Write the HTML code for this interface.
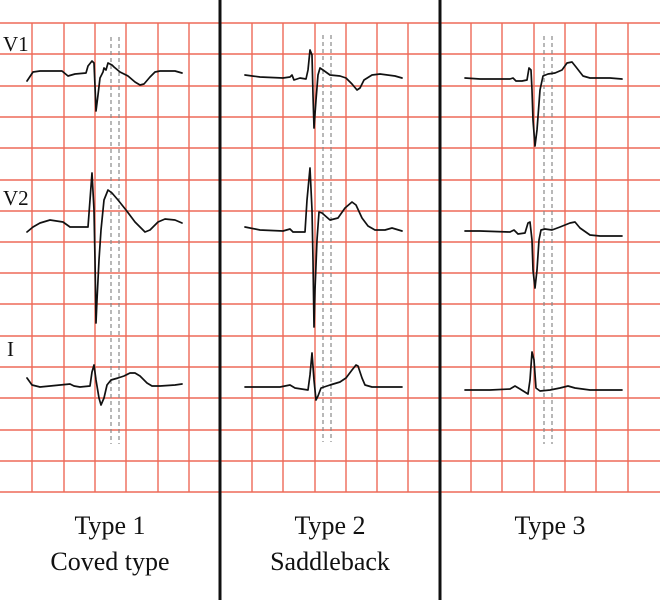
<!DOCTYPE html>
<html><head><meta charset="utf-8"><style>
html,body{margin:0;padding:0;background:#fff;width:660px;height:600px;overflow:hidden}
svg{display:block}
text{font-family:"Liberation Serif",serif;fill:#111}
</style></head><body>
<svg width="660" height="600" viewBox="0 0 660 600" xmlns="http://www.w3.org/2000/svg">
<g stroke="#ee6a58" stroke-width="1.4">
<line x1="0" y1="23" x2="660" y2="23"/><line x1="0" y1="54" x2="660" y2="54"/><line x1="0" y1="86" x2="660" y2="86"/><line x1="0" y1="117" x2="660" y2="117"/><line x1="0" y1="148" x2="660" y2="148"/><line x1="0" y1="180" x2="660" y2="180"/><line x1="0" y1="211" x2="660" y2="211"/><line x1="0" y1="242" x2="660" y2="242"/><line x1="0" y1="273" x2="660" y2="273"/><line x1="0" y1="304" x2="660" y2="304"/><line x1="0" y1="336" x2="660" y2="336"/><line x1="0" y1="367" x2="660" y2="367"/><line x1="0" y1="398" x2="660" y2="398"/><line x1="0" y1="430" x2="660" y2="430"/><line x1="0" y1="461" x2="660" y2="461"/><line x1="0" y1="492" x2="660" y2="492"/>
<line x1="32" y1="23" x2="32" y2="492"/><line x1="64" y1="23" x2="64" y2="492"/><line x1="95" y1="23" x2="95" y2="492"/><line x1="126" y1="23" x2="126" y2="492"/><line x1="158" y1="23" x2="158" y2="492"/><line x1="189" y1="23" x2="189" y2="492"/>
<line x1="252" y1="23" x2="252" y2="492"/><line x1="283" y1="23" x2="283" y2="492"/><line x1="315" y1="23" x2="315" y2="492"/><line x1="346" y1="23" x2="346" y2="492"/><line x1="377" y1="23" x2="377" y2="492"/><line x1="408" y1="23" x2="408" y2="492"/>
<line x1="471" y1="23" x2="471" y2="492"/><line x1="502" y1="23" x2="502" y2="492"/><line x1="534" y1="23" x2="534" y2="492"/><line x1="565" y1="23" x2="565" y2="492"/><line x1="596" y1="23" x2="596" y2="492"/><line x1="628" y1="23" x2="628" y2="492"/>
</g>
<g stroke="#888" stroke-width="1.2" stroke-dasharray="4,3">
<line x1="111" y1="37" x2="111" y2="444"/><line x1="119" y1="37" x2="119" y2="444"/>
<line x1="323" y1="35" x2="323" y2="442"/><line x1="331" y1="35" x2="331" y2="442"/>
<line x1="544" y1="36" x2="544" y2="444"/><line x1="552" y1="36" x2="552" y2="444"/>
</g>
<g stroke="#111" stroke-width="3">
<line x1="220" y1="0" x2="220" y2="600"/><line x1="440" y1="0" x2="440" y2="600"/>
</g>
<g fill="none" stroke="#111" stroke-width="1.7" stroke-linejoin="round" stroke-linecap="round">
<polyline points="27,81 33,72 40,71 62,71 68,76 75,74 86,73 88,66 92,61 94,63 95,86 96,111 98,95 100,78 103,72 104,68 106,70 108,63 110,64 112,65 114,67 120,72 128,76 135,82 140,85 144,84 150,77 155,72 160,71 175,71 182,73"/>
<polyline points="27,232 33,227 40,223 50,220 63,222 70,227 88,227 90,200 92,173 94,210 95,260 96,323 97,300 99,260 101,230 104,200 108,190 112,193 118,200 126,210 135,222 145,232 150,230 158,222 165,219 175,220 182,223"/>
<polyline points="27,378 32,385 40,387 60,385 70,384 74,386 80,387 90,386 92,372 94,365 96,380 99,398 101,405 104,398 107,385 111,380 118,378 124,376 130,373 135,373 140,376 147,383 152,386 160,386 175,385 182,384"/>
<polyline points="245,75 260,77 283,78 290,77 292,75 294,80 300,78 306,79 308,70 310,50 312,55 313,95 314,128 316,100 318,75 320,68 323,70 330,75 340,76 346,78 352,84 357,90 360,88 364,80 372,75 380,74 395,76 402,78"/>
<polyline points="245,227 260,230 283,231 290,229 293,232 305,232 307,200 310,168 312,210 313,260 314,327 315,290 317,240 319,212 322,213 330,220 338,218 345,208 352,202 356,205 362,218 368,226 375,230 385,230 392,228 402,231"/>
<polyline points="245,387 280,387 290,385 295,388 308,390 310,375 312,353 314,380 316,400 318,396 321,388 330,385 340,382 346,378 352,370 356,365 358,366 362,378 365,385 372,387 400,387 402,387"/>
<polyline points="465,78 480,79 510,79 513,78 516,81 522,81 527,80 529,68 531,70 532,90 533,120 535,146 537,130 540,90 543,76 548,74 555,73 562,70 567,63 572,62 576,67 583,76 590,78 610,78 622,79"/>
<polyline points="465,231 480,231 510,232 514,230 518,234 525,233 528,223 530,222 532,240 533,270 535,288 537,270 539,240 541,230 545,229 552,230 560,227 570,223 575,222 580,228 590,235 600,236 612,236 622,236"/>
<polyline points="465,390 490,390 510,389 515,386 520,389 528,394 530,380 532,352 534,360 536,388 540,391 550,390 560,388 568,386 575,388 590,390 622,390"/>
</g>
<text x="3" y="51" font-size="21">V1</text>
<text x="3" y="205" font-size="21">V2</text>
<text x="7" y="356" font-size="21">I</text>
<g font-size="26" text-anchor="middle">
<text x="110" y="534">Type 1</text><text x="110" y="570">Coved type</text>
<text x="330" y="534">Type 2</text><text x="330" y="570">Saddleback</text>
<text x="550" y="534">Type 3</text>
</g>
</svg>
</body></html>
